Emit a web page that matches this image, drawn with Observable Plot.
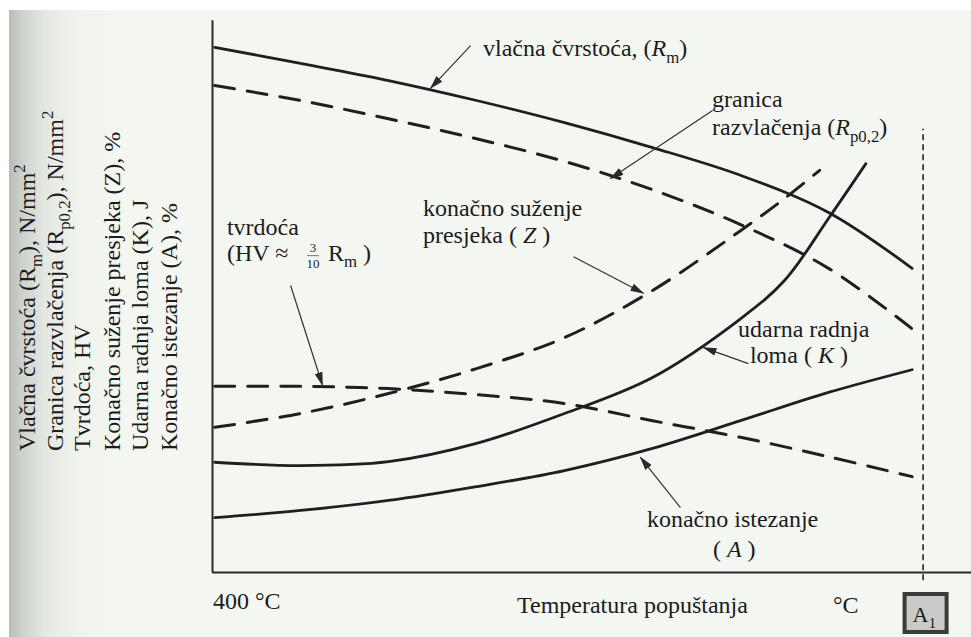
<!DOCTYPE html>
<html><head><meta charset="utf-8">
<script src="https://cdn.jsdelivr.net/npm/d3@7"></script>
<script src="https://cdn.jsdelivr.net/npm/@observablehq/plot@0.6"></script>
<style>
html,body{margin:0;padding:0;background:#fff;}
#chart{width:971px;height:637px;background:
 linear-gradient(#fff,#fff) top left/100% 10px no-repeat,
 linear-gradient(to right,#fff 0,#fff 9px,#b7bcb7 9px,#cdd2cd 22px,#e4e8e3 45px,#eff2ed 75px,#f3f6f1 120px);}
#chart svg{display:block;}
#chart svg text.ann{font-family:"Liberation Serif","Times New Roman",serif !important;white-space:pre;}
</style></head><body><div id="chart"></div>
<script>
// ---- data (temperature in °C, values in relative units 0–100) ----
const temps = [401, 440, 480, 520, 560, 600, 640, 680, 718];
const rmVals = [94.8, 91.9, 88.8, 85.2, 81.2, 76.7, 71.7, 65.0, 54.9];
const rpVals = [87.9, 85.2, 81.9, 78.3, 74.2, 69.1, 62.8, 54.9, 44.0];
const hvVals = [33.6, 33.6, 33.2, 32.1, 30.5, 27.4, 24.4, 20.9, 17.3];
const aVals  = [9.9, 11.2, 13.0, 15.5, 18.4, 22.4, 27.4, 32.5, 36.6];
const tempsZ = [401, 440, 480, 520, 560, 600, 640, 660, 676];
const zVals  = [26.2, 28.7, 32.3, 36.8, 42.4, 50.9, 61.7, 67.5, 72.6];
const tempsK = [401, 440, 480, 520, 560, 600, 640, 660, 680, 697];
const kVals  = [19.9, 19.3, 20.0, 23.3, 28.7, 35.2, 45.8, 52.7, 63.9, 73.8];
const tempA1 = 723;
const xStart = 400, xEnd = 745;

// annotation arrows: [fromT, fromV, toT, toV]
const arrowRm = [517.3, 95.1, 499.1, 87.4];
const arrowRp = [627.3, 83.4, 580.9, 71.1];
const arrowZ  = [564.1, 57.0, 595.9, 50.4];
const arrowHV = [435.5, 51.8, 450.0, 33.8];
const arrowK  = [643.6, 37.7, 623.2, 40.6];
const arrowA  = [612.7, 11.7, 594.5, 20.8];

// annotation texts
const labelRm = [["vlačna čvrstoća, ("], ["R","i"], ["m","b"], [")"]];
const labelRp1 = [["granica"]];
const labelRp2 = [["razvlačenja ("], ["R","i"], ["p0,2","b"], [")"]];
const labelZ1 = [["konačno suženje"]];
const labelZ2 = [["presjeka ( "], ["Z","i"], [" )"]];
const labelHV1 = [["tvrdoća"]];
const labelK1 = [["udarna radnja"]];
const labelK2 = [["loma ( "], ["K","i"], [" )"]];
const labelA1 = [["konačno istezanje"]];
const labelA2 = [["( "], ["A","i"], [" )"]];

const yLabelLines = [
  [["Vlačna čvrstoća (R"], ["m","b"], ["), N/mm"], ["2","p"]],
  [["Granica razvlačenja (R"], ["p0,2","b"], ["), N/mm"], ["2","p"]],
  [["Tvrdoća, HV"]],
  [["Konačno suženje presjeka (Z), %"]],
  [["Udarna radnja loma (K), J"]],
  [["Konačno istezanje (A), %"]]
];
const xTickLabel = "400 °C";
const xTitle = "Temperatura popuštanja";
const xUnit = "°C";

// ---- build tables ----
const series = (t, v) => t.map((x, i) => ({t: x, v: v[i]}));
const arrows = [arrowRm, arrowRp, arrowZ, arrowHV, arrowK, arrowA].map(a => ({x1: a[0], y1: a[1], x2: a[2], y2: a[3]}));

const ink = "#1f1f1f";
const solid = {x: "t", y: "v", stroke: ink, strokeWidth: 2.8, curve: "catmull-rom"};
const dashed = {...solid, strokeWidth: 3, strokeDasharray: "20,13"};

const plot = Plot.plot({
  width: 971, height: 637,
  marginLeft: 212, marginRight: 0, marginTop: 18, marginBottom: 65,
  x: {domain: [xStart, xEnd], axis: null},
  y: {domain: [0, 100], axis: null},
  style: {background: "transparent", fontFamily: "'Liberation Serif', serif"},
  marks: [
    Plot.ruleX([xStart], {y1: 0, y2: 99.6, stroke: "#2a2a2a", strokeWidth: 2}),
    Plot.ruleY([0], {x1: xStart, x2: xEnd, stroke: "#2a2a2a", strokeWidth: 2}),
    Plot.ruleX([tempA1], {y1: -1.5, y2: 80, stroke: "#3a3a3a", strokeWidth: 1.8, strokeDasharray: "6,4"}),
    Plot.line(series(temps, rmVals), solid),
    Plot.line(series(temps, rpVals), dashed),
    Plot.line(series(tempsZ, zVals), dashed),
    Plot.line(series(temps, hvVals), dashed),
    Plot.line(series(tempsK, kVals), solid),
    Plot.line(series(temps, aVals), solid),
    Plot.link(arrows, {x1: "x1", y1: "y1", x2: "x2", y2: "y2", stroke: "#333", strokeWidth: 1.2})
  ]
});
document.getElementById("chart").appendChild(plot);

const svg = d3.select(plot);
const X = plot.scale("x").apply, Y = plot.scale("y").apply;
const defs = svg.append("defs");
defs.append("marker").attr("id", "ah").attr("viewBox", "0 0 14 8")
  .attr("refX", 13).attr("refY", 4).attr("markerWidth", 14).attr("markerHeight", 8)
  .attr("markerUnits", "userSpaceOnUse").attr("orient", "auto")
  .append("path").attr("d", "M0,0L14,4L0,8Z").attr("fill", "#2a2a2a");
svg.selectAll('g[aria-label="link"] path').attr("marker-end", "url(#ah)");

const layer = svg.append("g").attr("text-anchor", "start");
function rich(x, y, parts, size, opts = {}) {
  const t = layer.append("text").attr("class", "ann")
    .attr("font-size", size).attr("fill", "#1c1c1c")
    .attr("text-anchor", opts.anchor || "start");
  if (opts.rotate) t.attr("transform", `translate(${x},${y}) rotate(-90)`);
  else t.attr("x", x).attr("y", y);
  let shift = 0;
  for (const [txt, kind = ""] of parts) {
    const s = t.append("tspan").text(txt);
    const target = kind === "b" ? size * 0.28 : kind === "p" ? -size * 0.42 : 0;
    if (target !== shift) { s.attr("dy", target - shift); shift = target; }
    if (kind === "b" || kind === "p") s.attr("font-size", size * 0.7);
    if (kind === "i") s.attr("font-style", "italic");
  }
  return t;
}
const fs = 24;
rich(X(523.2), Y(93.1), labelRm, fs);
rich(X(627.3), Y(83.9), labelRp1, fs);
rich(X(627.3), Y(78.9), labelRp2, fs);
rich(X(495.9), Y(64.3), labelZ1, fs);
rich(X(495.9), Y(59.4), labelZ2, fs);
rich(X(406.8), Y(60.8), labelHV1, fs);
// (HV ≈ 3/10 Rm )
{
  const x0 = X(406.8), y0 = Y(56.2);
  rich(x0, y0, [["(HV ≈"]], fs);
  rich(x0 + 86, y0 - 9, [["3"]], 13, {anchor: "middle"});
  rich(x0 + 86, y0 + 7, [["10"]], 13, {anchor: "middle"});
  layer.append("line").attr("x1", x0 + 80).attr("x2", x0 + 92).attr("y1", y0 - 5).attr("y2", y0 - 5)
    .attr("stroke", "#555").attr("stroke-width", 0.8);
  rich(x0 + 101, y0, [["R"], ["m", "b"], [" )"]], fs);
}
rich(X(639.1), Y(42.4), labelK1, fs);
rich(X(644.5), Y(37.7), labelK2, fs);
rich(X(597.7), Y(8.1), labelA1, fs);
rich(X(627.7), Y(2.7), labelA2, fs);

// y-axis title (six rotated lines)
const yCols = [35, 63, 90, 120, 148, 177];
yLabelLines.forEach((parts, i) => rich(yCols[i], 451, parts, 24, {rotate: true}));

// x-axis texts
rich(X(xStart) + 1, Y(0) + 37, [[xTickLabel]], fs);
rich(X(xStart) + 305, Y(0) + 41, [[xTitle]], fs);
rich(X(xStart) + 621, Y(0) + 41, [[xUnit]], fs);

// A1 box
{
  const cx = X(tempA1) + 2, y0 = Y(0);
  layer.append("rect").attr("x", cx - 20).attr("y", y0 + 22).attr("width", 42).attr("height", 38)
    .attr("fill", "#c9cbc8").attr("stroke", "#3b3b3b").attr("stroke-width", 4);
  rich(cx - 12, y0 + 50, [["A"], ["1", "b"]], 22);
}
</script></body></html>
